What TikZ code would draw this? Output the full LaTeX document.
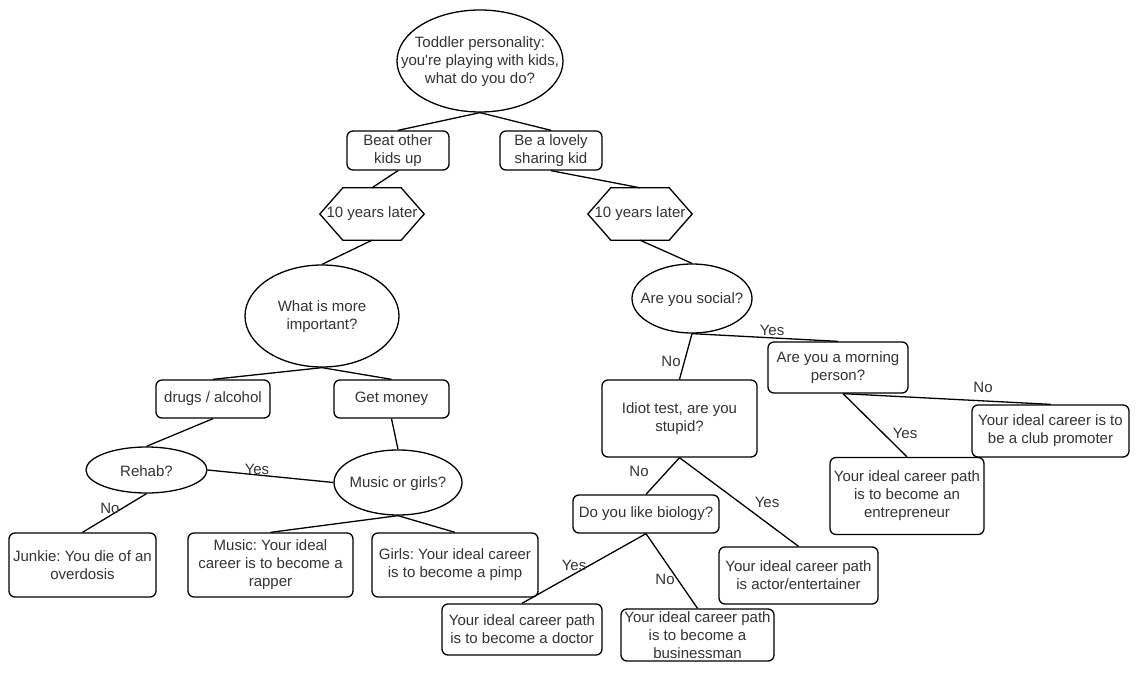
\documentclass[tikz,border=0pt]{standalone}
\usepackage{fontspec}
\setmainfont{Liberation Sans}[Ligatures=TeXOff]
\usetikzlibrary{shapes.geometric}
\frenchspacing
\begin{document}
\begin{tikzpicture}[x=1pt,y=-1pt,
  txtfont/.style={font=\fontsize{15}{18}\selectfont, text=black!80},
  box/.style={draw, line width=1.3pt, rounded corners=6pt, align=center, inner sep=0pt, txtfont},
  ell/.style={draw, ellipse, line width=1.3pt, inner sep=0pt},
  etxt/.style={align=center, inner sep=0pt, txtfont},
  hexn/.style={align=center, inner sep=0pt, minimum width=104pt, minimum height=52pt, txtfont},
  ln/.style={line width=1.3pt},
  lbl/.style={inner sep=0pt, txtfont}
]
\fill[white] (0,0) rectangle (1148,684);
\useasboundingbox (0,0) rectangle (1148,684);

% top
\node[ell, minimum width=166pt, minimum height=102pt] (root) at (480,61) {};
\node[etxt] (roott) at (480,62) {Toddler personality:\\you're playing with kids,\\what do you do?};
\node[box, minimum width=102pt, minimum height=39pt] (beat) at (398,150.5) {Beat other\\kids up};
\node[box, minimum width=102pt, minimum height=39pt] (lovely) at (551,150.5) {Be a lovely\\sharing kid};

% hexagons
\node[hexn] (h1) at (372,214) {10 years later};
\node[hexn] (h2) at (640,214) {10 years later};
\foreach \h in {h1,h2}{
  \draw[ln] (\h.west) -- ([xshift=23pt]\h.north west) -- ([xshift=-23pt]\h.north east) -- (\h.east) -- ([xshift=-23pt]\h.south east) -- ([xshift=23pt]\h.south west) -- cycle;
}

% left branch
\node[ell, minimum width=154pt, minimum height=102pt] (imp) at (322,316) {};
\node[etxt] (impt) at (322,317) {What is more\\important?};
\node[box, minimum width=114pt, minimum height=38pt] (drugs) at (213,399) {drugs / alcohol};
\node[box, minimum width=115pt, minimum height=38pt] (money) at (391.5,399) {Get money};
\node[ell, minimum width=121pt, minimum height=46pt] (rehab) at (146.5,470) {};
\node[etxt] (rehabt) at (146.5,471) {Rehab?};
\node[ell, minimum width=128pt, minimum height=65pt] (mog) at (398,482.5) {};
\node[etxt] (mogt) at (398,483.5) {Music or girls?};
\node[box, minimum width=147pt, minimum height=64pt] (junkie) at (82.5,565) {Junkie: You die of an\\overdosis};
\node[box, minimum width=165pt, minimum height=64pt] (music) at (270.5,565) {Music: Your ideal\\career is to become a\\rapper};
\node[box, minimum width=166pt, minimum height=64pt] (girls) at (455,565) {Girls: Your ideal career\\is to become a pimp};

% right branch
\node[ell, minimum width=120pt, minimum height=69pt] (social) at (692,298.5) {};
\node[etxt] (socialt) at (692,299.5) {Are you social?};
\node[box, minimum width=140pt, minimum height=51pt] (morning) at (838,367.5) {Are you a morning\\person?};
\node[box, minimum width=155pt, minimum height=77pt] (idiot) at (679.5,418.5) {Idiot test, are you\\stupid?};
\node[box, minimum width=157pt, minimum height=52pt] (promoter) at (1050.5,431) {Your ideal career is to\\be a club promoter};
\node[box, minimum width=154pt, minimum height=77pt] (entre) at (907,496) {Your ideal career path\\is to become an\\entrepreneur};
\node[box, minimum width=146pt, minimum height=38pt] (bio) at (646,514) {Do you like biology?};
\node[box, minimum width=159pt, minimum height=57pt] (actor) at (798.5,575.5) {Your ideal career path\\is actor/entertainer};
\node[box, minimum width=160pt, minimum height=51pt] (doctor) at (522,629.5) {Your ideal career path\\is to become a doctor};
\node[box, minimum width=153pt, minimum height=52pt] (business) at (697.5,635) {Your ideal career path\\is to become a\\businessman};

% connectors
\draw[ln] (root.south) -- (beat.north);
\draw[ln] (root.south) -- (lovely.north);
\draw[ln] (beat.south) -- (h1.north);
\draw[ln] (lovely.south) -- (h2.north);
\draw[ln] (h1.south) -- (imp.north);
\draw[ln] (h2.south) -- (social.north);
\draw[ln] (imp.south) -- (drugs.north);
\draw[ln] (imp.south) -- (money.north);
\draw[ln] (drugs.south) -- (rehab.north);
\draw[ln] (money.south) -- (mog.north);
\draw[ln] (rehab.east) -- (mog.west);
\draw[ln] (rehab.south) -- (junkie.north);
\draw[ln] (mog.south) -- (music.north);
\draw[ln] (mog.south) -- (girls.north);
\draw[ln] (social.south) -- (idiot.north);
\draw[ln] (social.south) -- (morning.north);
\draw[ln] ([xshift=5pt]morning.south) -- (promoter.north);
\draw[ln] ([xshift=5pt]morning.south) -- (entre.north);
\draw[ln] (idiot.south) -- (bio.north);
\draw[ln] (idiot.south) -- (actor.north);
\draw[ln] (bio.south) -- (doctor.north);
\draw[ln] (bio.south) -- (business.north);

% labels
\node[lbl] (l1) at (257,469) {Yes};
\node[lbl] (l2) at (110,508) {No};
\node[lbl] (l3) at (671,361) {No};
\node[lbl] (l4) at (772,330) {Yes};
\node[lbl] (l5) at (983,387) {No};
\node[lbl] (l6) at (905,433) {Yes};
\node[lbl] (l7) at (639,471) {No};
\node[lbl] (l8) at (767,502) {Yes};
\node[lbl] (l9) at (574,565) {Yes};
\node[lbl] (l10) at (665,579) {No};
\end{tikzpicture}
\end{document}
